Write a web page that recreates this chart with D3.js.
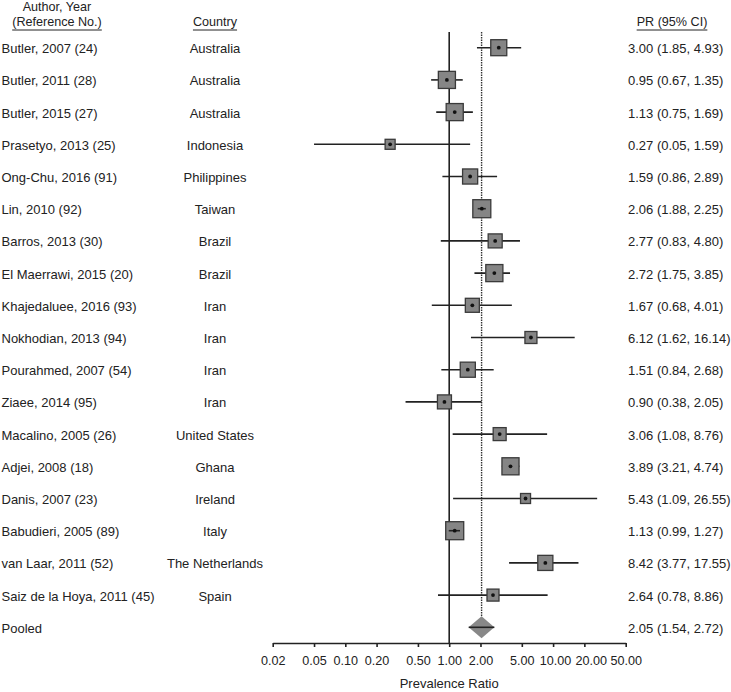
<!DOCTYPE html>
<html>
<head>
<meta charset="utf-8">
<script src="https://cdn.jsdelivr.net/npm/d3@7"></script>
<style>
  html, body { margin: 0; padding: 0; background: #fff; }
  svg { display: block; font-family: "Liberation Sans", Arial, sans-serif; }
</style>
</head>
<body>
<div id="chart"></div>
<script>
const authors = [
  "Butler, 2007 (24)", "Butler, 2011 (28)", "Butler, 2015 (27)", "Prasetyo, 2013 (25)",
  "Ong-Chu, 2016 (91)", "Lin, 2010 (92)", "Barros, 2013 (30)", "El Maerrawi, 2015 (20)",
  "Khajedaluee, 2016 (93)", "Nokhodian, 2013 (94)", "Pourahmed, 2007 (54)", "Ziaee, 2014 (95)",
  "Macalino, 2005 (26)", "Adjei, 2008 (18)", "Danis, 2007 (23)", "Babudieri, 2005 (89)",
  "van Laar, 2011 (52)", "Saiz de la Hoya, 2011 (45)"
];
const countries = [
  "Australia", "Australia", "Australia", "Indonesia", "Philippines", "Taiwan", "Brazil", "Brazil",
  "Iran", "Iran", "Iran", "Iran", "United States", "Ghana", "Ireland", "Italy",
  "The Netherlands", "Spain"
];
const prValues = [3.00, 0.95, 1.13, 0.27, 1.59, 2.06, 2.77, 2.72, 1.67, 6.12, 1.51, 0.90, 3.06, 3.89, 5.43, 1.13, 8.42, 2.64];
const ciLow   = [1.85, 0.67, 0.75, 0.05, 0.86, 1.88, 0.83, 1.75, 0.68, 1.62, 0.84, 0.38, 1.08, 3.21, 1.09, 0.99, 3.77, 0.78];
const ciHigh  = [4.93, 1.35, 1.69, 1.59, 2.89, 2.25, 4.80, 3.85, 4.01, 16.14, 2.68, 2.05, 8.76, 4.74, 26.55, 1.27, 17.55, 8.86];
// estimated study weights (%)
const weights = [6.4, 7.3, 7.3, 2.5, 5.7, 8.1, 4.9, 7.3, 4.9, 3.6, 5.7, 4.9, 4.2, 7.3, 2.5, 8.1, 5.7, 3.6];
const pooledLabel = "Pooled";
const pooledPR = 2.05, pooledLow = 1.54, pooledHigh = 2.72;
const tickValues = [0.02, 0.05, 0.10, 0.20, 0.50, 1.00, 2.00, 5.00, 10.00, 20.00, 50.00];
const headers = { author1: "Author, Year", author2: "(Reference No.)", country: "Country", pr: "PR (95% CI)" };
const axisTitle = "Prevalence Ratio";

const W = 731, H = 692;
const textColor = "#222";
const fs = 13;
const hfs = 12.6;

const svg = d3.select("#chart").append("svg").attr("width", W).attr("height", H);

const x = d3.scaleLog().domain([0.02, 50]).range([272.7, 625.7]);
const nRows = authors.length + 1;
const y = d3.scalePoint().domain(d3.range(nRows)).range([47.7, 627.3]);
const size = d3.scaleSqrt().domain([0, d3.max(weights)]).range([0, 18]);
const axisY = 643;
const fmt = d3.format(".2f");

// Headers
function underline(t, xPos) {
  const w = t.node().getComputedTextLength();
  svg.append("line").attr("x1", xPos - w / 2).attr("x2", xPos + w / 2).attr("y1", 30).attr("y2", 30)
    .attr("stroke", textColor).attr("stroke-width", 1);
}
svg.append("text").attr("x", 57).attr("y", 11.2).attr("text-anchor", "middle")
  .attr("font-size", hfs).attr("fill", textColor).text(headers.author1);
const refHead = svg.append("text").attr("x", 57).attr("y", 25.5).attr("text-anchor", "middle")
  .attr("font-size", hfs).attr("fill", textColor).text(headers.author2);
underline(refHead, 57);
const cHead = svg.append("text").attr("x", 215).attr("y", 25.5).attr("text-anchor", "middle")
  .attr("font-size", hfs).attr("fill", textColor).text(headers.country);
underline(cHead, 215);
const pHead = svg.append("text").attr("x", 672).attr("y", 25.5).attr("text-anchor", "middle")
  .attr("font-size", hfs).attr("fill", textColor).text(headers.pr);
underline(pHead, 672);

// Reference lines
svg.append("line").attr("x1", x(1)).attr("x2", x(1)).attr("y1", 32).attr("y2", axisY)
  .attr("stroke", "#222").attr("stroke-width", 1.6);
svg.append("line").attr("x1", x(pooledPR)).attr("x2", x(pooledPR)).attr("y1", 32).attr("y2", y(nRows - 1) - 11)
  .attr("stroke", "#333").attr("stroke-width", 1.4).attr("stroke-dasharray", "1.5,1");

// Rows
const rows = authors.map((a, i) => ({ a, c: countries[i], pr: prValues[i], lo: ciLow[i], hi: ciHigh[i], w: weights[i], i }));

const g = svg.append("g");
rows.forEach(d => {
  const cy = y(d.i);
  const cx = x(d.pr);
  const s = size(d.w);
  g.append("text").attr("x", 1.5).attr("y", cy + 5.5).attr("font-size", fs).attr("fill", textColor).text(d.a);
  g.append("text").attr("x", 215).attr("y", cy + 5.5).attr("text-anchor", "middle").attr("font-size", fs).attr("fill", textColor).text(d.c);
  g.append("text").attr("x", 628).attr("y", cy + 5.5).attr("font-size", fs).attr("fill", textColor)
    .text(`${fmt(d.pr)} (${fmt(d.lo)}, ${fmt(d.hi)})`);
  g.append("line").attr("x1", x(d.lo)).attr("x2", x(d.hi)).attr("y1", cy).attr("y2", cy)
    .attr("stroke", "#222").attr("stroke-width", 1.6);
  g.append("rect").attr("x", cx - s / 2).attr("y", cy - s / 2).attr("width", s).attr("height", s)
    .attr("fill", "#858585").attr("stroke", "#3a3a3a").attr("stroke-width", 1.3);
  const inside = (x(d.hi) - x(d.lo)) < s;
  if (inside) {
    g.append("line").attr("x1", x(d.lo)).attr("x2", x(d.hi)).attr("y1", cy).attr("y2", cy)
      .attr("stroke", "#222").attr("stroke-width", 1.6);
  }
  g.append("circle").attr("cx", cx).attr("cy", cy).attr("r", 1.9).attr("fill", "#111");
});

// Pooled
const py = y(nRows - 1);
svg.append("text").attr("x", 1.5).attr("y", py + 5.5).attr("font-size", fs).attr("fill", textColor).text(pooledLabel);
svg.append("text").attr("x", 628).attr("y", py + 5.5).attr("font-size", fs).attr("fill", textColor)
  .text(`${fmt(pooledPR)} (${fmt(pooledLow)}, ${fmt(pooledHigh)})`);
svg.append("path")
  .attr("d", `M${x(pooledLow)},${py} L${x(pooledPR)},${py - 11} L${x(pooledHigh)},${py} L${x(pooledPR)},${py + 11} Z`)
  .attr("fill", "#888");
svg.append("line").attr("x1", x(pooledLow)).attr("x2", x(pooledHigh)).attr("y1", py).attr("y2", py)
  .attr("stroke", "#222").attr("stroke-width", 1.6);

// Axis
const axis = d3.axisBottom(x).tickValues(tickValues).tickFormat(fmt).tickSize(4).tickSizeOuter(0).tickPadding(9);
const ag = svg.append("g").attr("transform", `translate(0,${axisY})`).call(axis);
ag.select(".domain").attr("stroke", "#222").attr("stroke-width", 1.6);
ag.selectAll(".tick line").attr("stroke", "#222").attr("stroke-width", 1.6);
ag.selectAll(".tick text").attr("font-size", 12.6).attr("fill", textColor)
  .attr("font-family", "Liberation Sans, Arial, sans-serif")
  .attr("dx", d => d === 10 ? 2 : d === 20 ? 6.5 : 0);

svg.append("text").attr("x", x(1)).attr("y", 688).attr("text-anchor", "middle")
  .attr("font-size", fs).attr("fill", textColor).text(axisTitle);
</script>
</body>
</html>
